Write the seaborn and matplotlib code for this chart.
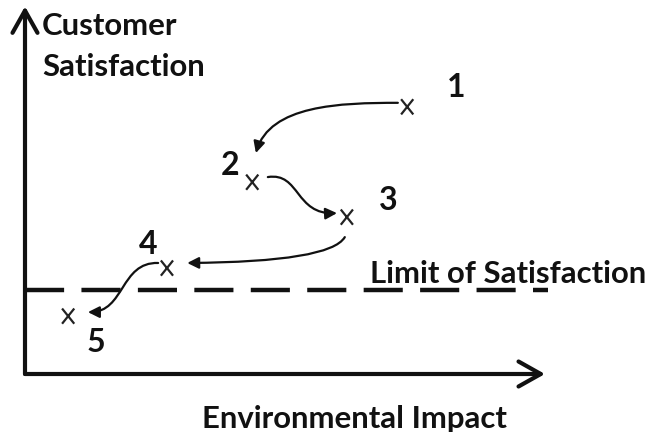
import matplotlib
matplotlib.use("Agg")
import matplotlib.pyplot as plt
import seaborn as sns
import pandas as pd
from matplotlib.path import Path
from matplotlib.patches import FancyArrowPatch

# ---- data -------------------------------------------------------------
stage_labels = ["1", "2", "3", "4", "5"]
impact = [7.35, 4.37, 6.19, 2.73, 0.83]          # Environmental Impact
satisfaction = [7.34, 5.27, 4.31, 2.91, 1.59]    # Customer Satisfaction
limit_of_satisfaction = 2.31

# curved transition arrows (control points, data units)
arrow_1_2 = [(7.17, 7.45), (6.06, 7.45), (4.71, 7.39), (4.44, 6.07)]
arrow_2_3 = [(4.67, 5.41), (5.29, 5.55), (5.19, 4.37), (6.00, 4.42)]
arrow_3_4 = [(6.15, 3.76), (5.87, 3.08), (3.12, 3.05)]
arrow_4_5 = [(2.56, 3.05), (1.83, 3.08), (1.92, 1.70), (1.21, 1.70)]

x_title = "Environmental Impact"
y_title_lines = ["Customer", "Satisfaction"]
limit_text = "Limit of Satisfaction"

# label offsets in pixels relative to the point (style)
label_offsets_px = [(49, 19), (-22, 17), (41, 17), (-19, 24), (28, -26)]

# ---- figure -----------------------------------------------------------
sns.set_theme(style="white")
plt.rcParams["font.family"] = ["Lato", "DejaVu Sans"]

fig = plt.figure(figsize=(6.45, 4.32), dpi=100)
ax = fig.add_axes([25 / 645, (432 - 374) / 432, 520 / 645, 364 / 432])
ax.set_xlim(0, 10)
ax.set_ylim(0, 10)
ax.axis("off")

ink = "#111111"
px = 72 / 100.0

# axes with open arrowheads
axis_style = "->,head_length=0.8,head_width=0.45"
for end in [(10, 0), (0, 10.1)]:
    ax.annotate("", xy=end, xytext=(0, 0), xycoords="data",
                arrowprops=dict(arrowstyle=axis_style, lw=3.0, color=ink,
                                shrinkA=0, shrinkB=0, mutation_scale=20),
                annotation_clip=False)

# dashed limit line
ax.plot([0, 10.06], [limit_of_satisfaction, limit_of_satisfaction],
        color=ink, lw=3.2, linestyle=(0, (8.8, 3.9)), solid_capstyle="butt",
        dash_capstyle="butt", clip_on=False)

# points drawn as a tall letter-like "x"
x_marker = Path([(-0.4, -0.5), (0.4, 0.5), (-0.4, 0.5), (0.4, -0.5)],
                [Path.MOVETO, Path.LINETO, Path.MOVETO, Path.LINETO])
df = pd.DataFrame({"impact": impact, "satisfaction": satisfaction,
                   "stage": stage_labels})
sns.scatterplot(data=df, x="impact", y="satisfaction", marker=x_marker, s=120,
                facecolor="none", edgecolor="#222222", linewidth=1.6, ax=ax,
                legend=False, clip_on=False)

for lab, xv, yv, off in zip(stage_labels, impact, satisfaction, label_offsets_px):
    ax.annotate(lab, xy=(xv, yv), xytext=(off[0] * px, off[1] * px),
                textcoords="offset points", ha="center", va="center",
                fontsize=23, fontweight="bold", color=ink)

# curved arrows
for pts in [arrow_1_2, arrow_2_3, arrow_3_4, arrow_4_5]:
    if len(pts) == 3:
        codes = [Path.MOVETO, Path.CURVE3, Path.CURVE3]
    else:
        codes = [Path.MOVETO, Path.CURVE4, Path.CURVE4, Path.CURVE4]
    arr = FancyArrowPatch(path=Path(pts, codes), arrowstyle="-|>",
                          mutation_scale=17, lw=1.6, color=ink,
                          transform=ax.transData)
    ax.add_patch(arr)

# texts
for line, yb in zip(y_title_lines, [9.31, 8.19]):
    ax.text(0.33, yb, line, ha="left", va="baseline", fontsize=22.4,
            fontweight="bold", color=ink, clip_on=False)
ax.text(6.33, -1.48, x_title, ha="center", va="baseline", fontsize=22.4,
        fontweight="bold", color=ink, clip_on=False)
ax.text(6.63, 2.50, limit_text, ha="left", va="baseline", fontsize=22.4,
        fontweight="bold", color=ink, clip_on=False)

fig.savefig("out.png", dpi=100)
